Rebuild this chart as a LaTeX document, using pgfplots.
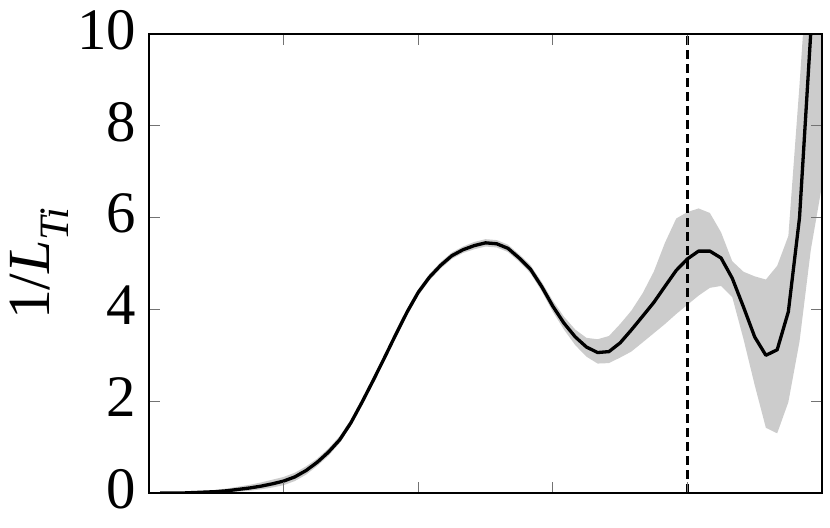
\documentclass[border=0pt]{standalone}
\usepackage{pgfplots}
\pgfplotsset{compat=1.18}
\usepackage{pgfplotstable}
\usepgfplotslibrary{fillbetween}
\usepackage{fontspec}
\setmainfont{Liberation Serif}
\definecolor{bandgray}{RGB}{204,204,204}

% x, mean, lower and upper bound of the band
\pgfplotstableread{
x      y      lo     hi
0.083  0.00   0.00   0.01
0.167  0.00   0.00   0.01
0.250  0.00   -0.01  0.01
0.333  0.01   -0.01  0.03
0.417  0.02   0.00   0.05
0.500  0.03   0.00   0.07
0.583  0.05   0.01   0.10
0.667  0.08   0.03   0.14
0.750  0.11   0.05   0.18
0.833  0.15   0.08   0.23
0.917  0.20   0.12   0.29
1.000  0.26   0.17   0.35
1.083  0.35   0.26   0.44
1.167  0.49   0.40   0.58
1.250  0.67   0.59   0.75
1.333  0.89   0.81   0.97
1.417  1.16   1.09   1.24
1.500  1.53   1.46   1.60
1.583  1.98   1.91   2.05
1.667  2.46   2.39   2.53
1.750  2.95   2.88   3.02
1.833  3.45   3.38   3.52
1.917  3.94   3.87   4.01
2.000  4.37   4.30   4.44
2.083  4.70   4.63   4.77
2.167  4.96   4.89   5.03
2.250  5.17   5.10   5.24
2.333  5.30   5.23   5.37
2.417  5.39   5.31   5.47
2.500  5.45   5.37   5.53
2.583  5.43   5.35   5.51
2.667  5.33   5.25   5.41
2.750  5.12   5.04   5.20
2.833  4.88   4.79   4.97
2.917  4.50   4.40   4.60
3.000  4.07   3.95   4.19
3.083  3.70   3.56   3.84
3.167  3.40   3.22   3.56
3.250  3.18   2.97   3.38
3.333  3.06   2.82   3.35
3.417  3.08   2.83   3.42
3.500  3.27   2.95   3.68
3.583  3.55   3.08   3.97
3.667  3.85   3.28   4.35
3.750  4.15   3.48   4.82
3.833  4.50   3.68   5.45
3.917  4.85   3.90   5.98
4.000  5.10   4.10   6.12
4.083  5.27   4.30   6.20
4.167  5.27   4.47   6.10
4.250  5.12   4.51   5.68
4.333  4.68   4.27   5.05
4.417  4.05   3.35   4.82
4.500  3.40   2.35   4.72
4.583  3.00   1.42   4.65
4.667  3.12   1.30   4.95
4.750  3.95   1.98   5.60
4.833  6.00   3.30   8.90
4.917  10.05  5.30   12.50
5.000  14.50  6.70   16.00
}\ltdata

\begin{document}
\begin{tikzpicture}
\begin{axis}[
    scale only axis,
    width=673bp, height=459bp,
    xmin=0, xmax=5, ymin=0, ymax=10,
    xtick={1,2,3,4}, xticklabels={},
    ytick={0,2,...,10},
    xtick pos=both, ytick pos=both,
    tick align=inside,
    major tick length=11bp,
    every tick/.style={black!55, line width=1.2bp},
    axis line style={black, line width=1.3bp},
    axis on top,
    /pgf/number format/assume math mode=true,
    tick label style={font=\fontsize{59}{59}\selectfont},
    yticklabel style={inner sep=0pt, xshift=-13bp, yshift=4bp},
    ylabel={1/\textit{L}\textsubscript{\textit{Ti}}},
    ylabel style={font=\fontsize{60}{60}\selectfont,
        at={(axis description cs:-0.163,0.5)}, anchor=center},
]
    % uncertainty band
    \addplot[name path=hi, draw=none] table[x=x, y=hi] {\ltdata};
    \addplot[name path=lo, draw=none] table[x=x, y=lo] {\ltdata};
    \addplot[bandgray] fill between[of=hi and lo];

    % mean curve
    \addplot[black, line width=3.3bp, line join=round] table[x=x, y=y] {\ltdata};

    % marker line
    \addplot[black, line width=3bp, dash pattern=on 9bp off 5bp]
        coordinates {(4,0) (4,10)};

    \coordinate (sw) at (rel axis cs:0,0);
    \coordinate (ne) at (rel axis cs:1,1);
\end{axis}
\pgfresetboundingbox
\useasboundingbox ([shift={(-149bp,-35bp)}]sw) rectangle ([shift={(8bp,34bp)}]ne);
\end{tikzpicture}
\end{document}
